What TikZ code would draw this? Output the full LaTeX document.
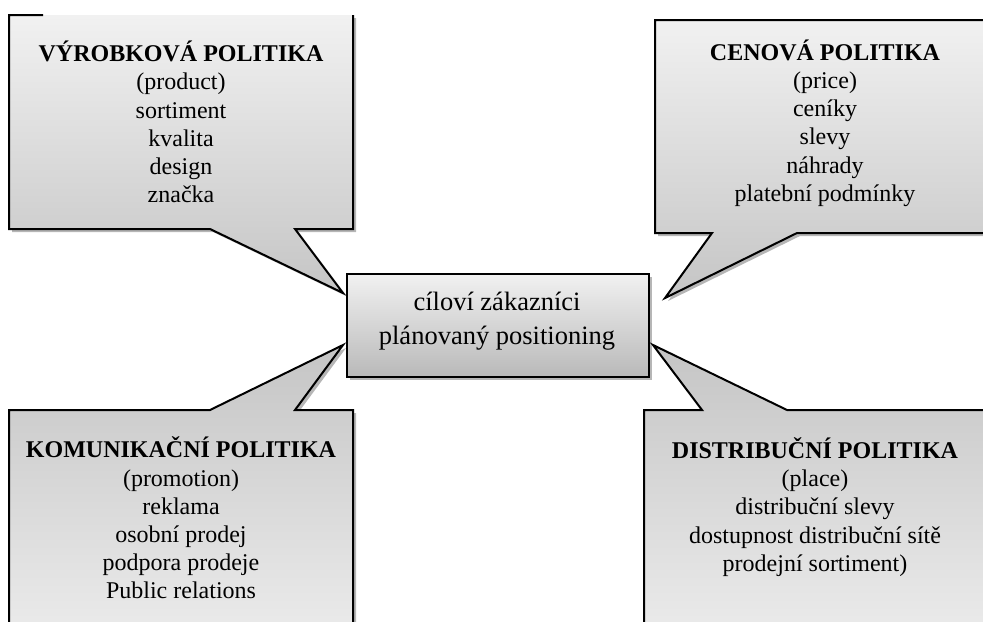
\documentclass[tikz,border=0pt]{standalone}
\usepackage{fontspec}
\setmainfont{Liberation Serif}
\begin{document}
\begin{tikzpicture}[x=0.5pt,y=-0.5pt,
  edge/.style={draw=black,line width=1pt,line join=miter},
  shadowc/.style={fill=black!38,opacity=0.75},
  topfill/.style={top color=topA,bottom color=botA},
  botfill/.style={top color=botA,bottom color=topB},
  centfill/.style={top color=topA,bottom color=botC},
  txt/.style={align=center,inner sep=0pt,font=\fontsize{12}{14.1}\selectfont},
  ctxt/.style={align=center,inner sep=0pt,font=\fontsize{13.25}{17}\selectfont}]
\definecolor{topA}{HTML}{F1F1F1}
\definecolor{botA}{HTML}{C5C5C5}
\definecolor{topB}{HTML}{EDEDED}
\definecolor{botC}{HTML}{B9B9B9}
\useasboundingbox (0,0) rectangle (983,621);
\clip (0,0) rectangle (983,621);
% shadows
\begin{scope}[shift={(3,3)}]
  \fill[shadowc] (9,15) -- (353,15) -- (353,229) -- (295,229) -- (343,293) -- (210,229) -- (9,229) -- cycle;
  \fill[shadowc] (655,20) -- (1000,20) -- (1000,233) -- (797,233) -- (665,298) -- (712,233) -- (655,233) -- cycle;
  \fill[shadowc] (9,410) -- (210,410) -- (343,345) -- (295,410) -- (353,410) -- (353,650) -- (9,650) -- cycle;
  \fill[shadowc] (644,410) -- (702,410) -- (653,345) -- (787,410) -- (1000,410) -- (1000,650) -- (644,650) -- cycle;
  \fill[shadowc] (347,274) rectangle (649,377);
\end{scope}
% top-left callout (product)
\path[topfill] (9,15) -- (353,15) -- (353,229) -- (295,229) -- (343,293) -- (210,229) -- (9,229) -- cycle;
\draw[edge] (43,15) -- (9,15) -- (9,229) -- (210,229) -- (343,293) -- (295,229) -- (353,229) -- (353,15);
% top-right callout (price)
\path[topfill,edge] (655,20) -- (1000,20) -- (1000,233) -- (797,233) -- (665,298) -- (712,233) -- (655,233) -- cycle;
% bottom-left callout (promotion)
\path[botfill,edge] (9,410) -- (210,410) -- (343,345) -- (295,410) -- (353,410) -- (353,650) -- (9,650) -- cycle;
% bottom-right callout (place)
\path[botfill,edge] (644,410) -- (702,410) -- (653,345) -- (787,410) -- (1000,410) -- (1000,650) -- (644,650) -- cycle;
% centre box
\path[centfill,edge] (347,274) rectangle (649,377);
% texts
\node[txt] (product) at (181,122) {\textbf{VÝROBKOVÁ POLITIKA}\\(product)\\sortiment\\kvalita\\design\\značka};
\node[txt] (price) at (825,123) {\textbf{CENOVÁ POLITIKA}\\(price)\\ceníky\\slevy\\náhrady\\platební podmínky};
\node[txt] (promotion) at (181,518) {\textbf{KOMUNIKAČNÍ POLITIKA}\\(promotion)\\reklama\\osobní prodej\\podpora prodeje\\Public relations};
\node[txt] (place) at (815,507) {\textbf{DISTRIBUČNÍ POLITIKA}\\(place)\\distribuční slevy\\dostupnost distribuční sítě\\prodejní sortiment)};
\node[ctxt] (centre) at (497,321) {cíloví zákazníci\\plánovaný positioning};
\end{tikzpicture}
\end{document}
